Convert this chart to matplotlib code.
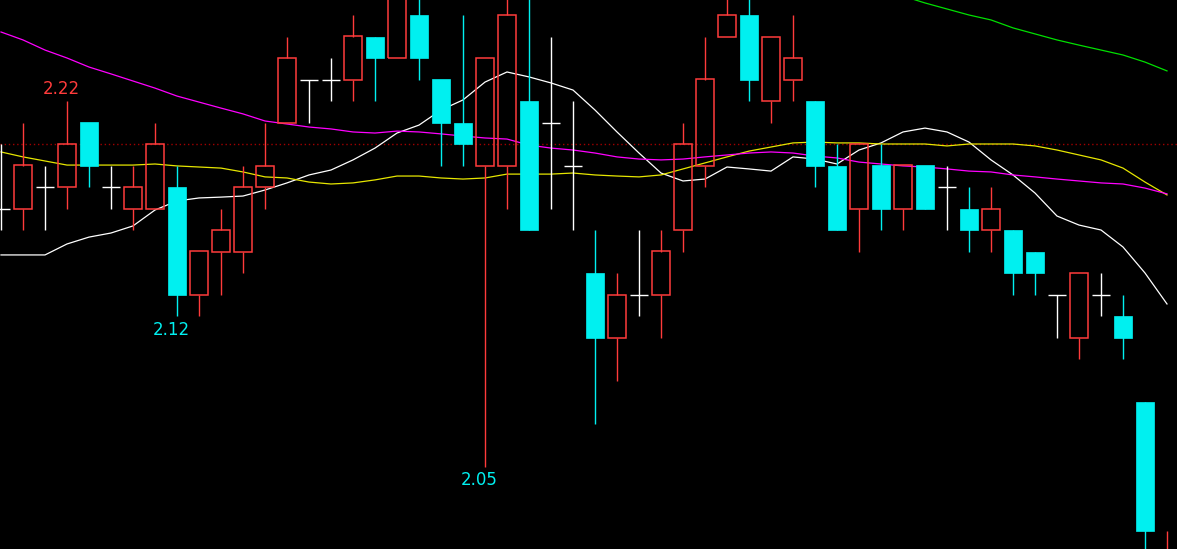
import matplotlib.pyplot as plt
from matplotlib.patches import Rectangle

# candles: open / high / low / close
opens = [2.17, 2.17, 2.18, 2.18, 2.21, 2.18, 2.17, 2.17, 2.18, 2.13,
         2.15, 2.15, 2.18, 2.21, 2.23, 2.23, 2.23, 2.25, 2.24, 2.26,
         2.23, 2.21, 2.19, 2.19, 2.22, 2.21, 2.19, 2.14, 2.11, 2.13,
         2.13, 2.16, 2.19, 2.25, 2.26, 2.22, 2.23, 2.22, 2.19, 2.17,
         2.19, 2.17, 2.19, 2.18, 2.17, 2.16, 2.16, 2.15, 2.13, 2.11,
         2.13, 2.12, 2.08, 1.98]
highs = [2.20, 2.21, 2.19, 2.22, 2.21, 2.19, 2.19, 2.21, 2.19, 2.15,
         2.17, 2.19, 2.21, 2.25, 2.23, 2.24, 2.26, 2.25, 2.29, 2.28,
         2.23, 2.26, 2.24, 2.28, 2.28, 2.25, 2.22, 2.16, 2.14, 2.16,
         2.16, 2.21, 2.25, 2.28, 2.28, 2.25, 2.26, 2.22, 2.20, 2.20,
         2.20, 2.19, 2.19, 2.19, 2.18, 2.18, 2.16, 2.15, 2.13, 2.14,
         2.14, 2.13, 2.08, 2.02]
lows = [2.16, 2.16, 2.16, 2.17, 2.18, 2.17, 2.16, 2.17, 2.12, 2.12,
        2.13, 2.14, 2.17, 2.21, 2.21, 2.22, 2.22, 2.22, 2.24, 2.23,
        2.19, 2.19, 2.05, 2.17, 2.16, 2.17, 2.16, 2.07, 2.09, 2.12,
        2.11, 2.15, 2.18, 2.25, 2.22, 2.21, 2.22, 2.18, 2.16, 2.15,
        2.16, 2.16, 2.17, 2.16, 2.15, 2.15, 2.13, 2.13, 2.11, 2.10,
        2.12, 2.10, 2.00, 1.97]
closes = [2.17, 2.19, 2.18, 2.20, 2.19, 2.18, 2.18, 2.20, 2.13, 2.15,
          2.16, 2.18, 2.19, 2.24, 2.23, 2.23, 2.25, 2.24, 2.28, 2.24,
          2.21, 2.20, 2.24, 2.26, 2.16, 2.21, 2.19, 2.11, 2.13, 2.13,
          2.15, 2.20, 2.23, 2.26, 2.23, 2.25, 2.24, 2.19, 2.16, 2.20,
          2.17, 2.19, 2.17, 2.18, 2.16, 2.17, 2.14, 2.14, 2.13, 2.14,
          2.13, 2.11, 2.02, 2.00]

# moving averages
ma_white = [2.1484, 2.1484, 2.1484, 2.1535, 2.1567, 2.1586, 2.1619, 2.1693, 2.1735, 2.1749,
            2.1753, 2.1758, 2.1786, 2.1819, 2.1856, 2.1879, 2.1926, 2.1981, 2.2051, 2.2088,
            2.2158, 2.2205, 2.2288, 2.2335, 2.2312, 2.2284, 2.2251, 2.2158, 2.2056, 2.1958,
            2.1865, 2.1828, 2.1837, 2.1893, 2.1884, 2.1874, 2.1940, 2.1930, 2.1907, 2.1972,
            2.2005, 2.2056, 2.2074, 2.2056, 2.2009, 2.1926, 2.1856, 2.1772, 2.1665, 2.1623,
            2.1600, 2.1521, 2.1400, 2.1256]
ma_yellow = [2.1963, 2.1940, 2.1921, 2.1902, 2.1902, 2.1902, 2.1902, 2.1907, 2.1898, 2.1893,
             2.1888, 2.1870, 2.1847, 2.1842, 2.1823, 2.1814, 2.1819, 2.1833, 2.1851, 2.1851,
             2.1842, 2.1837, 2.1842, 2.1860, 2.1860, 2.1860, 2.1865, 2.1856, 2.1851, 2.1847,
             2.1856, 2.1884, 2.1912, 2.1940, 2.1967, 2.1986, 2.2005, 2.2009, 2.2005, 2.2005,
             2.2000, 2.2000, 2.2000, 2.1991, 2.2000, 2.2000, 2.2000, 2.1991, 2.1972, 2.1949,
             2.1926, 2.1888, 2.1823, 2.1763]
ma_magenta = [2.2521, 2.2484, 2.2437, 2.2400, 2.2358, 2.2326, 2.2293, 2.2260, 2.2223, 2.2195,
              2.2167, 2.2140, 2.2107, 2.2093, 2.2079, 2.2070, 2.2056, 2.2051, 2.2060, 2.2056,
              2.2047, 2.2037, 2.2028, 2.2023, 2.1995, 2.1981, 2.1972, 2.1958, 2.1940, 2.1930,
              2.1926, 2.1930, 2.1940, 2.1949, 2.1958, 2.1963, 2.1958, 2.1944, 2.1935, 2.1916,
              2.1907, 2.1898, 2.1893, 2.1884, 2.1874, 2.1870, 2.1856, 2.1847, 2.1837, 2.1828,
              2.1819, 2.1814, 2.1795, 2.1768]
green_start = 41
ma_green = [2.2688, 2.2656, 2.2628, 2.2600, 2.2577, 2.2540, 2.2512, 2.2484, 2.2460, 2.2437,
            2.2414, 2.2381, 2.2340]

ref_price = 2.20
hi_label = (3, '2.22')
lo_labels = [(8, '2.12'), (22, '2.05')]

UP = '#ff3b3b'
DOWN = '#00f0f0'

fig = plt.figure(figsize=(11.77, 5.49), dpi=100, facecolor='black')
ax = fig.add_axes([0, 0, 1, 1])
ax.set_facecolor('black')

n = len(opens)
xs = list(range(n))
w = 0.82

ax.axhline(ref_price, color='#a00000', lw=1, linestyle=(0, (1, 2)), zorder=1)
ax.plot(xs, ma_white, color='white', lw=0.9, zorder=1)
ax.plot(xs, ma_yellow, color='#e6e600', lw=0.9, zorder=1)
ax.plot(xs, ma_magenta, color='#ff00ff', lw=0.9, zorder=1)
ax.plot(range(green_start, green_start + len(ma_green)), ma_green, color='#00e000', lw=0.9, zorder=1)

for i in xs:
    o, h, l, c = opens[i], highs[i], lows[i], closes[i]
    if c > o:
        ax.vlines(i, c, h, color=UP, lw=1, zorder=2)
        ax.vlines(i, l, o, color=UP, lw=1, zorder=2)
        ax.add_patch(Rectangle((i - w / 2, o), w, c - o, facecolor='none',
                               edgecolor=UP, lw=1.1, zorder=3))
    elif c < o:
        ax.vlines(i, l, h, color=DOWN, lw=1, zorder=2)
        ax.add_patch(Rectangle((i - w / 2, c), w, o - c, facecolor=DOWN,
                               edgecolor=DOWN, lw=0.5, zorder=3))
    else:
        ax.vlines(i, l, h, color='white', lw=1, zorder=2)
        ax.hlines(o, i - w / 2, i + w / 2, color='white', lw=1, zorder=2)

i, txt = hi_label
ax.annotate(txt, (i, highs[i]), xytext=(-4, 9), textcoords='offset points',
            ha='center', va='center', color=UP, fontsize=12)
for i, txt in lo_labels:
    ax.annotate(txt, (i, lows[i]), xytext=(-4, -10), textcoords='offset points',
                ha='center', va='center', color=DOWN, fontsize=12)

ax.set_xlim(-1 / 22, 1176 / 22)
ax.set_ylim(2.22 - 448 / 2150, 2.22 + 101 / 2150)
ax.axis('off')

fig.savefig('out.png', dpi=100, facecolor='black')
